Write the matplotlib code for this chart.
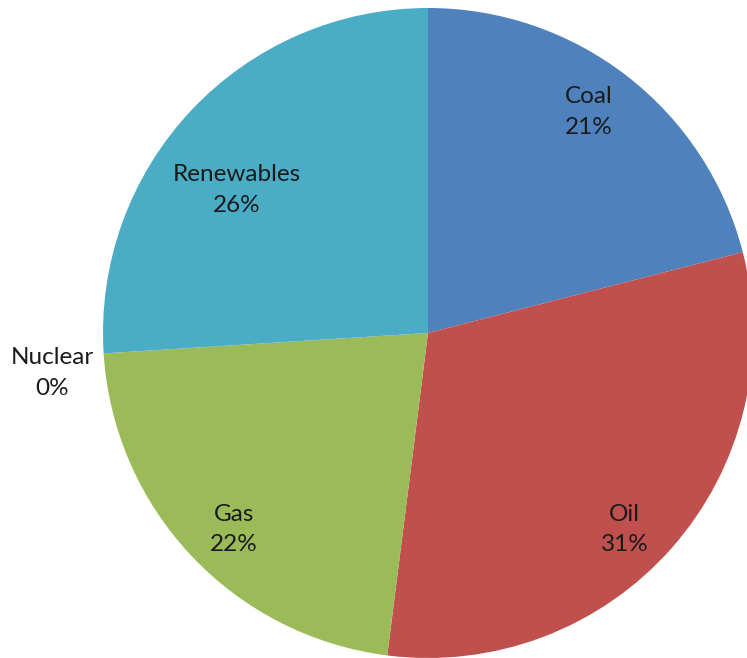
import numpy as np
import matplotlib.pyplot as plt

sources = ['Coal', 'Oil', 'Gas', 'Nuclear', 'Renewables']
shares = [21, 31, 22, 0, 26]
colors = ['#4F81BD', '#C0504D', '#9BBB59', '#8064A2', '#4BACC6']
# label placement: distance as a fraction of the radius, and angle nudge in degrees
label_r = [0.84, 0.855, 0.85, 1.163, 0.735]
label_nudge = [1.8, -3.6, 2.1, 2.5, 6.4]

fig = plt.figure(figsize=(7.47, 6.58), dpi=100)
ax = fig.add_axes([0, 0, 1, 1])

R = 325
cx, cy = 428, 325
wedges, _ = ax.pie(shares, colors=colors, startangle=90, counterclock=False,
                   radius=R, center=(cx, cy), frame=True,
                   wedgeprops=dict(linewidth=0))
ax.set_xlim(0, 747)
ax.set_ylim(0, 658)
ax.set_aspect('equal')
ax.axis('off')

for w, name, val, d, nd in zip(wedges, sources, shares, label_r, label_nudge):
    mid = np.deg2rad((w.theta1 + w.theta2) / 2 + nd)
    x = cx + d * R * np.cos(mid)
    y = cy + d * R * np.sin(mid)
    ax.text(x, y, f'{name}\n{val}%', ha='center', va='center',
            fontsize=17.5, family=['Lato', 'DejaVu Sans'], linespacing=1.55,
            color='#1a1a1a')

fig.savefig('out.png', dpi=100)
